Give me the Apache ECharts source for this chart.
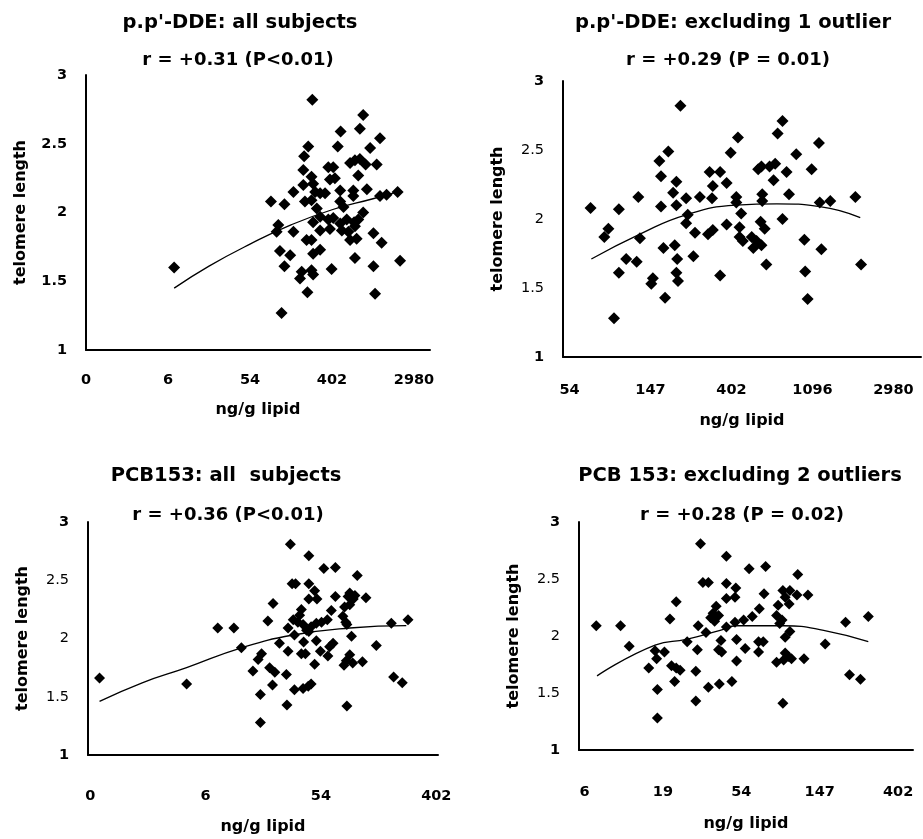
<!DOCTYPE html>
<html>
<head>
<meta charset="utf-8">
<script src="https://cdn.jsdelivr.net/npm/echarts@6/dist/echarts.min.js"></script>
<style>html,body{margin:0;padding:0;background:#fff}#c{width:923px;height:839px}</style>
</head>
<body>
<div id="c"></div>
<script>
// x values are ln(ng/g lipid); y values are telomere length
var ddeAllX = [2.15,5.52,6.76,6.68,6.21,7.17,5.42,6.14,6.93,5.32,5.30,5.91,6.03,6.44,6.56,6.68,6.82,7.09,5.50,5.95,6.07,6.64,5.30,5.54,5.59,5.71,5.83,6.20,6.52,6.85,7.17,7.33,7.60,5.06,4.51,4.84,5.34,5.50,6.20,6.28,6.52,5.63,5.71,6.76,4.69,4.65,5.54,5.91,6.03,6.20,6.36,6.54,6.64,5.71,5.95,6.24,6.40,6.56,5.06,6.44,6.60,7.01,5.38,5.50,7.21,4.73,4.98,5.71,5.54,6.56,7.66,4.84,5.99,7.01,5.26,5.50,5.54,5.22,5.40,7.05,4.77];
var ddeAllY = [1.60,2.82,2.71,2.61,2.59,2.54,2.48,2.48,2.47,2.41,2.31,2.33,2.33,2.36,2.38,2.39,2.35,2.35,2.26,2.24,2.25,2.27,2.20,2.21,2.15,2.14,2.14,2.16,2.16,2.17,2.12,2.13,2.15,2.15,2.08,2.06,2.08,2.09,2.08,2.04,2.12,2.03,1.97,2.00,1.91,1.86,1.93,1.95,1.96,1.92,1.95,1.93,1.95,1.87,1.88,1.87,1.86,1.90,1.86,1.80,1.81,1.85,1.80,1.80,1.78,1.72,1.69,1.73,1.70,1.67,1.65,1.61,1.59,1.61,1.57,1.58,1.55,1.52,1.42,1.41,1.27];
var ddeAllFitX = [2.15,3.0,4.0,5.0,6.0,7.0,7.6];
var ddeAllFitY = [1.45,1.61,1.77,1.91,2.02,2.10,2.15];

var ddeExX = [4.26,5.37,6.63,6.57,6.08,7.08,5.22,5.11,5.99,6.80,5.73,5.86,5.13,5.32,5.28,5.94,5.77,6.33,6.37,6.47,6.54,6.52,6.68,6.99,4.85,4.61,5.13,5.32,5.44,5.61,5.76,6.06,6.06,6.38,6.38,6.71,7.09,7.22,7.53,5.46,5.44,6.12,5.55,5.71,5.77,5.94,6.10,6.36,6.41,6.63,4.48,4.43,4.87,6.10,6.14,6.25,6.31,6.27,6.37,6.90,5.16,5.30,5.33,5.53,4.70,4.83,7.11,6.43,4.61,5.32,5.34,5.03,5.01,5.86,6.91,7.60,5.18,6.94,4.55];
var ddeExY = [2.08,2.82,2.71,2.62,2.59,2.55,2.49,2.42,2.48,2.47,2.34,2.34,2.31,2.27,2.19,2.26,2.24,2.36,2.38,2.38,2.40,2.28,2.34,2.36,2.16,2.07,2.09,2.10,2.15,2.16,2.15,2.16,2.12,2.18,2.13,2.18,2.12,2.13,2.16,2.03,1.97,2.04,1.90,1.89,1.92,1.96,1.94,1.98,1.93,2.00,1.93,1.87,1.86,1.87,1.84,1.87,1.84,1.79,1.81,1.85,1.79,1.81,1.71,1.73,1.71,1.69,1.78,1.67,1.61,1.61,1.55,1.57,1.53,1.59,1.62,1.67,1.43,1.42,1.28];
var ddeExFitX = [4.27,4.87,5.44,6.06,6.56,7.09,7.59];
var ddeExFitY = [1.71,1.89,2.03,2.10,2.11,2.09,2.01];

var pcbAllX = [0.16,1.67,2.21,2.49,2.62,3.47,3.79,4.05,4.25,4.63,3.50,3.56,3.79,3.89,3.79,3.93,4.25,4.50,4.59,4.47,4.56,4.78,3.17,3.66,3.63,4.18,4.41,4.50,4.38,4.43,3.08,3.52,3.60,3.69,3.75,3.83,3.92,4.01,4.11,3.43,3.79,4.45,5.22,5.51,3.54,3.28,4.53,3.70,3.92,4.21,4.15,4.96,3.43,3.66,3.73,3.99,4.12,2.97,2.91,4.50,4.44,4.40,4.55,4.72,3.89,2.82,3.11,3.20,3.40,3.16,3.83,3.78,3.69,3.54,5.26,5.41,2.95,3.41,4.45,2.95];
var pcbAllY = [1.66,1.61,2.09,2.09,1.92,2.81,2.71,2.60,2.61,2.54,2.47,2.47,2.47,2.41,2.34,2.34,2.36,2.39,2.37,2.36,2.34,2.35,2.30,2.25,2.20,2.24,2.27,2.29,2.19,2.14,2.15,2.16,2.14,2.12,2.07,2.10,2.13,2.14,2.16,2.09,2.06,2.12,2.13,2.16,2.03,1.96,2.02,1.97,1.98,1.96,1.93,1.94,1.89,1.87,1.87,1.89,1.85,1.87,1.82,1.86,1.81,1.77,1.79,1.80,1.78,1.72,1.75,1.71,1.69,1.60,1.61,1.59,1.57,1.56,1.67,1.62,1.52,1.43,1.42,1.28];
var pcbAllFitX = [0.16,0.9,1.67,2.62,3.52,4.50,5.48];
var pcbAllFitY = [1.46,1.62,1.75,1.92,2.03,2.09,2.11];

var pcbExX = [3.48,3.81,3.51,3.58,3.81,3.93,3.81,3.92,3.17,3.68,3.64,3.61,3.66,3.71,3.09,2.15,2.46,3.45,3.55,3.81,3.92,2.57,3.31,3.74,3.44,3.94,2.90,2.92,3.02,3.71,3.75,3.94,2.82,3.11,3.17,3.22,3.42,3.15,3.58,3.72,3.88,2.93,3.42,2.93,4.10,4.31,4.72,4.29,4.53,4.62,4.56,4.71,4.85,4.61,4.23,4.47,4.45,4.52,4.49,4.14,4.03,5.33,5.62,4.22,4.28,4.22,4.05,4.62,4.56,5.07,4.56,4.60,4.45,4.54,4.64,4.80,5.38,5.52,4.53];
var pcbExY = [2.81,2.70,2.47,2.47,2.46,2.42,2.33,2.34,2.30,2.26,2.20,2.16,2.13,2.18,2.15,2.09,2.09,2.09,2.03,2.08,2.12,1.91,1.95,1.96,1.88,1.97,1.87,1.80,1.86,1.88,1.86,1.78,1.72,1.74,1.72,1.70,1.69,1.60,1.55,1.58,1.60,1.53,1.43,1.28,2.59,2.61,2.54,2.37,2.40,2.40,2.34,2.36,2.36,2.28,2.24,2.27,2.18,2.14,2.11,2.17,2.14,2.12,2.17,1.95,1.95,1.86,1.89,2.04,1.99,1.93,1.85,1.82,1.77,1.79,1.80,1.80,1.66,1.62,1.41];
var pcbExFitX = [2.16,2.90,3.30,3.73,3.94,4.54,5.05,5.62];
var pcbExFitY = [1.65,1.92,1.97,2.05,2.09,2.09,2.05,1.95];

var p1TickVals = [0,2,4,6,8],  p1TickText = ['0','6','54','402','2980'];
var p2TickVals = [4,5,6,7,8],  p2TickText = ['54','147','402','1096','2980'];
var p3TickVals = [0,2,4,6],    p3TickText = ['0','6','54','402'];
var p4TickVals = [2,3,4,5,6],  p4TickText = ['6','19','54','147','402'];

var titles = ["p.p'-DDE: all subjects", "p.p'-DDE: excluding 1 outlier", "PCB153: all  subjects", "PCB 153: excluding 2 outliers"];
var rTexts = ["r = +0.31 (P<0.01)", "r = +0.29 (P = 0.01)", "r = +0.36 (P<0.01)", "r = +0.28 (P = 0.02)"];

var FONT = 'DejaVu Sans';
function zip(a, b) { return a.map(function (v, i) { return [v, b[i]]; }); }

var panels = [
  {grid:{left:86,top:75,width:344,height:275}, min:0, max:8.39, tv:p1TickVals, tt:p1TickText, xm:23, ng:52, yBold:true, ss:12,
   t:[240,25], r:[238,62], sx:ddeAllX, sy:ddeAllY, fx:ddeAllFitX, fy:ddeAllFitY},
  {grid:{left:563,top:81,width:358,height:276}, min:3.92, max:8.34, tv:p2TickVals, tt:p2TickText, xm:26, ng:56, yBold:false, ss:12,
   t:[733,25], r:[728,62], sx:ddeExX, sy:ddeExY, fx:ddeExFitX, fy:ddeExFitY},
  {grid:{left:88,top:522,width:350,height:233}, min:-0.04, max:6.03, tv:p3TickVals, tt:p3TickText, xm:34, ng:64, yBold:false, ss:11,
   t:[226,478], r:[228,517], sx:pcbAllX, sy:pcbAllY, fx:pcbAllFitX, fy:pcbAllFitY},
  {grid:{left:579,top:522,width:334,height:228}, min:1.93, max:6.19, tv:p4TickVals, tt:p4TickText, xm:35, ng:66, yBold:false, ss:11,
   t:[740,478], r:[742,517], sx:pcbExX, sy:pcbExY, fx:pcbExFitX, fy:pcbExFitY}
];

var option = {animation:false, backgroundColor:'#fff', title:[], grid:[], xAxis:[], yAxis:[], series:[]};
panels.forEach(function (p, i) {
  option.title.push({text:titles[i], left:p.t[0], top:p.t[1]-12, textAlign:'center', padding:0,
    textStyle:{fontFamily:FONT, fontWeight:'bold', fontSize:19.5, color:'#000'}});
  option.title.push({text:rTexts[i], left:p.r[0], top:p.r[1]-11, textAlign:'center', padding:0,
    textStyle:{fontFamily:FONT, fontWeight:'bold', fontSize:18, color:'#000'}});
  option.grid.push(Object.assign({containLabel:false}, p.grid));
  option.xAxis.push({type:'value', gridIndex:i, min:p.min, max:p.max,
    name:'ng/g lipid', nameLocation:'middle', nameGap:p.ng,
    nameTextStyle:{fontFamily:FONT, fontWeight:'bold', fontSize:16, color:'#000', verticalAlign:'top'},
    axisLine:{show:true, onZero:false, lineStyle:{color:'#000', width:2}},
    axisTick:{show:false}, splitLine:{show:false},
    axisLabel:{customValues:p.tv, margin:p.xm, fontFamily:FONT, fontWeight:'bold', fontSize:14.5, color:'#000',
      formatter:(function (tv, tt) { return function (v) {
        for (var k = 0; k < tv.length; k++) { if (Math.abs(tv[k] - v) < 1e-6) return tt[k]; }
        return ''; }; })(p.tv, p.tt)}
  });
  option.yAxis.push({type:'value', gridIndex:i, min:1, max:3, interval:0.5,
    name:'telomere length', nameLocation:'middle', nameGap:57, nameRotate:90,
    nameTextStyle:{fontFamily:FONT, fontWeight:'bold', fontSize:16, color:'#000'},
    axisLine:{show:true, onZero:false, lineStyle:{color:'#000', width:2}},
    axisTick:{show:false}, splitLine:{show:false},
    axisLabel:{margin:19, fontFamily:FONT, fontSize:14.5, color:'#000', fontWeight:'bold',
      formatter:(function (bold) { return function (v) {
        if (bold || Math.abs(v - 1) < 1e-6 || Math.abs(v - 3) < 1e-6) return '{b|' + v + '}';
        return '{n|' + v + '}'; }; })(p.yBold),
      rich:{b:{fontFamily:FONT, fontSize:14.5, fontWeight:'bold', color:'#000'},
            n:{fontFamily:FONT, fontSize:14.5, fontWeight:'normal', color:'#000'}}}
  });
  option.series.push({type:'scatter', xAxisIndex:i, yAxisIndex:i, data:zip(p.sx, p.sy),
    symbol:'diamond', symbolSize:p.ss, itemStyle:{color:'#000', opacity:1}});
  option.series.push({type:'line', xAxisIndex:i, yAxisIndex:i, data:zip(p.fx, p.fy), smooth:true,
    showSymbol:false, symbol:'none', lineStyle:{color:'#000', width:1.3}, z:3});
});

var chart = echarts.init(document.getElementById('c'), null, {renderer:'canvas'});
chart.setOption(option);
</script>
</body>
</html>
